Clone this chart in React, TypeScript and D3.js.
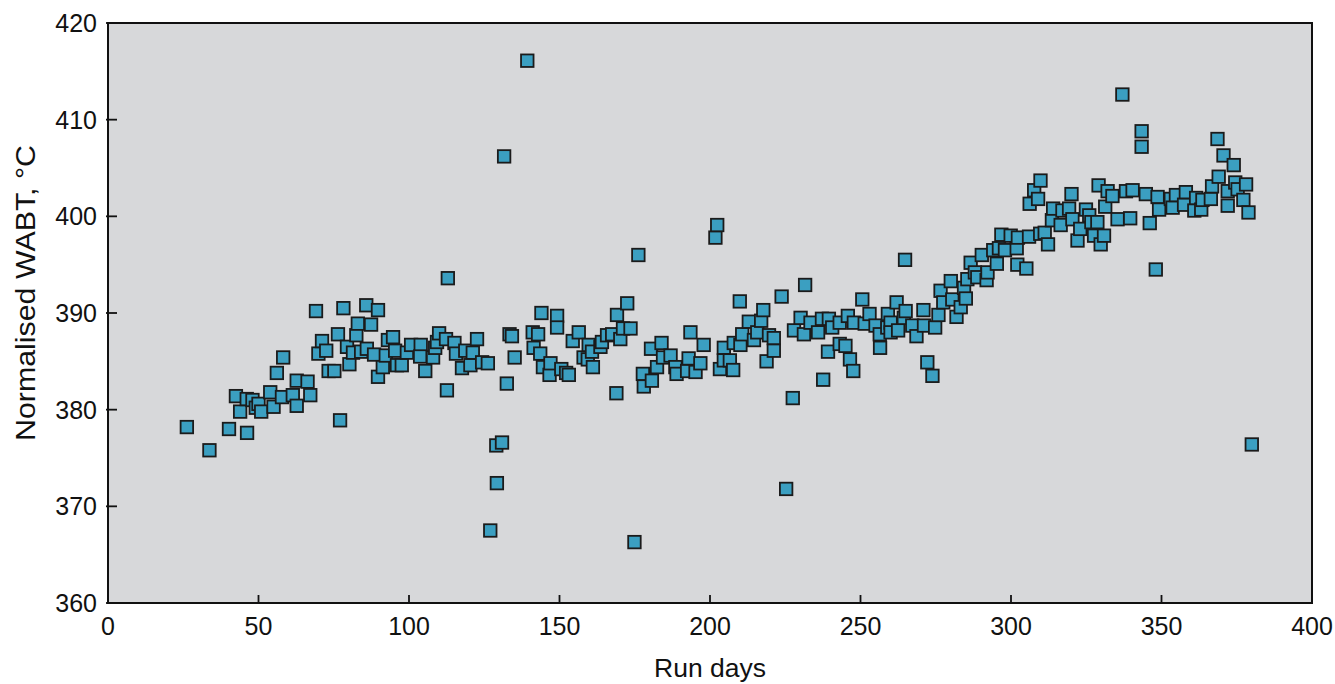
import React from "react";
import * as d3 from "d3";

const runDays: number[] = [
  26.2, 33.7, 40.2, 42.5, 43.9, 46.1, 46.2, 48.0, 49.1, 50.0,
  50.9, 53.9, 55.0, 56.1, 57.8, 58.2, 61.4, 62.7, 62.7, 66.3,
  67.2, 69.1, 69.9, 71.1, 72.5, 73.3, 75.2, 76.4, 77.1, 78.2,
  79.4, 80.2, 81.4, 82.5, 83.0, 84.1, 85.8, 86.0, 87.4, 88.4,
  89.7, 89.7, 91.3, 92.3, 93.0, 94.7, 95.4, 96.0, 97.6, 99.3,
  100.7, 103.9, 103.7, 105.4, 108.0, 108.7, 109.3, 110.0, 112.3, 112.9,
  112.6, 115.1, 115.6, 117.6, 118.7, 120.4, 121.2, 122.6, 124.3, 126.2,
  127.0, 129.0, 129.2, 130.9, 131.6, 132.5, 133.4, 134.2, 135.1, 139.3,
  141.1, 141.4, 142.9, 143.6, 144.0, 144.5, 146.7, 147.0, 149.2, 149.2,
  150.6, 152.2, 153.1, 154.4, 156.4, 158.0, 159.4, 159.7, 160.8, 161.1,
  163.6, 164.1, 165.8, 167.5, 168.9, 169.1, 170.2, 171.1, 172.5, 173.6,
  174.9, 176.2, 177.7, 178.0, 180.4, 180.7, 182.4, 183.9, 184.4, 186.9,
  188.5, 188.9, 192.4, 192.9, 193.5, 195.2, 196.8, 197.9, 201.8, 202.4,
  203.3, 204.6, 204.6, 206.6, 207.7, 207.9, 209.9, 210.1, 210.7, 212.9,
  214.6, 215.7, 217.0, 217.7, 218.8, 219.6, 221.2, 221.2, 223.8, 225.3,
  227.5, 227.9, 230.1, 231.2, 231.6, 233.4, 235.9, 237.2, 237.6, 239.2,
  239.5, 240.6, 243.1, 243.1, 245.0, 245.8, 246.5, 247.6, 247.8, 250.6,
  251.4, 253.0, 255.0, 256.4, 256.5, 258.9, 259.1, 260.0, 260.0, 262.0,
  262.5, 264.4, 264.8, 265.0, 267.2, 268.6, 270.9, 271.1, 272.2, 273.9,
  274.8, 275.9, 276.6, 277.5, 280.0, 280.5, 281.9, 283.3, 284.4, 285.0,
  285.5, 286.6, 288.0, 288.8, 290.3, 291.9, 292.2, 294.1, 295.3, 296.0,
  296.8, 298.0, 299.9, 301.9, 302.3, 302.1, 305.1, 306.0, 306.2, 307.7,
  309.0, 309.8, 309.7, 311.2, 312.3, 313.6, 314.0, 316.5, 317.1, 319.3,
  320.1, 320.4, 322.1, 323.0, 324.9, 326.0, 326.7, 327.6, 328.7, 329.1,
  329.8, 330.9, 331.3, 332.1, 333.7, 335.4, 337.0, 338.2, 339.6, 340.4,
  343.4, 343.4, 344.8, 346.1, 348.1, 348.7, 349.2, 353.1, 353.7, 354.8,
  357.5, 358.1, 360.9, 361.5, 363.2, 363.6, 366.4, 366.8, 368.6, 369.0,
  370.6, 372.0, 372.0, 374.0, 374.5, 375.3, 377.2, 378.1, 378.9, 380.0,
];

const wabt: number[] = [
  378.2, 375.8, 378.0, 381.4, 379.8, 381.1, 377.6, 381.0, 380.2, 380.6,
  379.8, 381.8, 380.3, 383.8, 381.3, 385.4, 381.5, 380.4, 383.0, 382.9,
  381.5, 390.2, 385.8, 387.1, 386.1, 384.0, 384.0, 387.8, 378.9, 390.5,
  386.5, 384.7, 385.9, 387.7, 388.9, 386.0, 390.8, 386.3, 388.8, 385.7,
  390.3, 383.4, 384.4, 385.6, 387.2, 387.5, 386.1, 384.6, 384.6, 385.9,
  386.7, 386.7, 385.5, 384.0, 385.4, 386.4, 387.0, 387.9, 387.3, 393.6,
  382.0, 386.9, 385.8, 384.3, 386.1, 384.6, 385.9, 387.3, 384.9, 384.8,
  367.5, 376.3, 372.4, 376.6, 406.2, 382.7, 387.8, 387.6, 385.4, 416.1,
  388.0, 386.4, 387.8, 385.8, 390.0, 384.4, 383.6, 384.8, 389.7, 388.5,
  384.2, 383.8, 383.6, 387.1, 388.0, 385.4, 385.2, 386.7, 386.0, 384.4,
  386.5, 387.0, 387.7, 387.8, 381.7, 389.8, 387.3, 388.4, 391.0, 388.4,
  366.3, 396.0, 383.7, 382.4, 386.3, 383.0, 384.4, 386.9, 385.4, 385.6,
  384.4, 383.7, 384.0, 385.3, 388.0, 383.9, 384.8, 386.7, 397.8, 399.1,
  384.2, 386.4, 385.1, 385.1, 384.1, 386.9, 391.2, 386.7, 387.8, 389.1,
  387.2, 388.0, 389.2, 390.3, 385.0, 387.7, 387.4, 386.1, 391.7, 371.8,
  381.2, 388.2, 389.5, 387.8, 392.9, 389.0, 388.0, 389.4, 383.1, 386.0,
  389.4, 388.5, 389.0, 386.8, 386.6, 389.7, 385.2, 384.0, 389.0, 391.4,
  388.9, 389.9, 388.7, 387.8, 386.4, 388.5, 389.9, 389.0, 388.0, 391.1,
  388.2, 389.5, 395.5, 390.2, 388.7, 387.6, 390.3, 388.7, 384.9, 383.5,
  388.5, 389.8, 392.3, 391.1, 393.3, 391.4, 389.6, 390.6, 392.6, 391.5,
  393.5, 395.2, 394.2, 393.7, 396.0, 393.4, 394.2, 396.5, 395.1, 396.7,
  398.1, 396.5, 398.0, 396.7, 397.8, 395.0, 394.6, 397.9, 401.3, 402.7,
  401.8, 403.7, 398.2, 398.3, 397.1, 399.6, 400.8, 399.1, 400.6, 400.8,
  402.3, 399.7, 397.5, 398.7, 400.7, 400.1, 399.4, 398.0, 399.4, 403.2,
  397.1, 398.0, 401.0, 402.6, 402.1, 399.7, 412.6, 402.6, 399.8, 402.7,
  408.8, 407.2, 402.3, 399.3, 394.5, 402.0, 400.7, 401.8, 400.9, 402.2,
  401.2, 402.5, 400.6, 401.9, 400.7, 401.7, 401.8, 403.1, 408.0, 404.1,
  406.3, 402.6, 401.1, 405.3, 403.5, 402.8, 401.7, 403.3, 400.4, 376.4,
];

const xTicks: number[] = [0, 50, 100, 150, 200, 250, 300, 350, 400];
const yTicks: number[] = [360, 370, 380, 390, 400, 410, 420];
const xTitle = "Run days";
const yTitle = "Normalised WABT, °C";

const W = 1335;
const H = 684;
const M = { left: 108, right: 1312, top: 23, bottom: 603 };
const FONT = "'Liberation Sans', Arial, Helvetica, sans-serif";

export default function App() {
  const x = d3.scaleLinear().domain([0, 400]).range([M.left, M.right]);
  const y = d3.scaleLinear().domain([360, 420]).range([M.bottom, M.top]);
  const s = 12.5;
  const points = runDays.map((d, i) => ({ d, v: wabt[i] }));

  return (
    <svg
      width={W}
      height={H}
      style={{ position: "absolute", left: 0, top: 0, background: "#ffffff" }}
      fontFamily={FONT}
    >
      <rect
        x={M.left}
        y={M.top}
        width={M.right - M.left}
        height={M.bottom - M.top}
        fill="#d7d8da"
      />
      {points.map((p, i) => (
        <rect
          key={i}
          x={x(p.d) - s / 2}
          y={y(p.v) - s / 2}
          width={s}
          height={s}
          fill="#3b9fc1"
          stroke="#1b1b1b"
          strokeWidth={1.8}
        />
      ))}
      {xTicks.map((t) => (
        <g key={"x" + t}>
          <line x1={x(t)} x2={x(t)} y1={M.bottom} y2={M.bottom - 8} stroke="#111" strokeWidth={1.8} />
          <text x={x(t)} y={635} textAnchor="middle" fontSize={25} fill="#111">
            {t}
          </text>
        </g>
      ))}
      {yTicks.map((t) => (
        <g key={"y" + t}>
          <line x1={M.left - 2} x2={M.left + 9} y1={y(t)} y2={y(t)} stroke="#111" strokeWidth={1.8} />
          <text x={97} y={y(t) + 9} textAnchor="end" fontSize={25} fill="#111">
            {t}
          </text>
        </g>
      ))}
      <rect
        x={M.left}
        y={M.top}
        width={M.right - M.left}
        height={M.bottom - M.top}
        fill="none"
        stroke="#111"
        strokeWidth={2}
      />
      <text
        x={(M.left + M.right) / 2}
        y={677}
        textAnchor="middle"
        fontSize={26}
        fill="#111"
        textLength={112}
        lengthAdjust="spacingAndGlyphs"
      >
        {xTitle}
      </text>
      <text
        transform={`translate(35, ${(145 + 441) / 2}) rotate(-90)`}
        textAnchor="middle"
        fontSize={27}
        fill="#111"
        textLength={296}
        lengthAdjust="spacingAndGlyphs"
      >
        {yTitle}
      </text>
    </svg>
  );
}
